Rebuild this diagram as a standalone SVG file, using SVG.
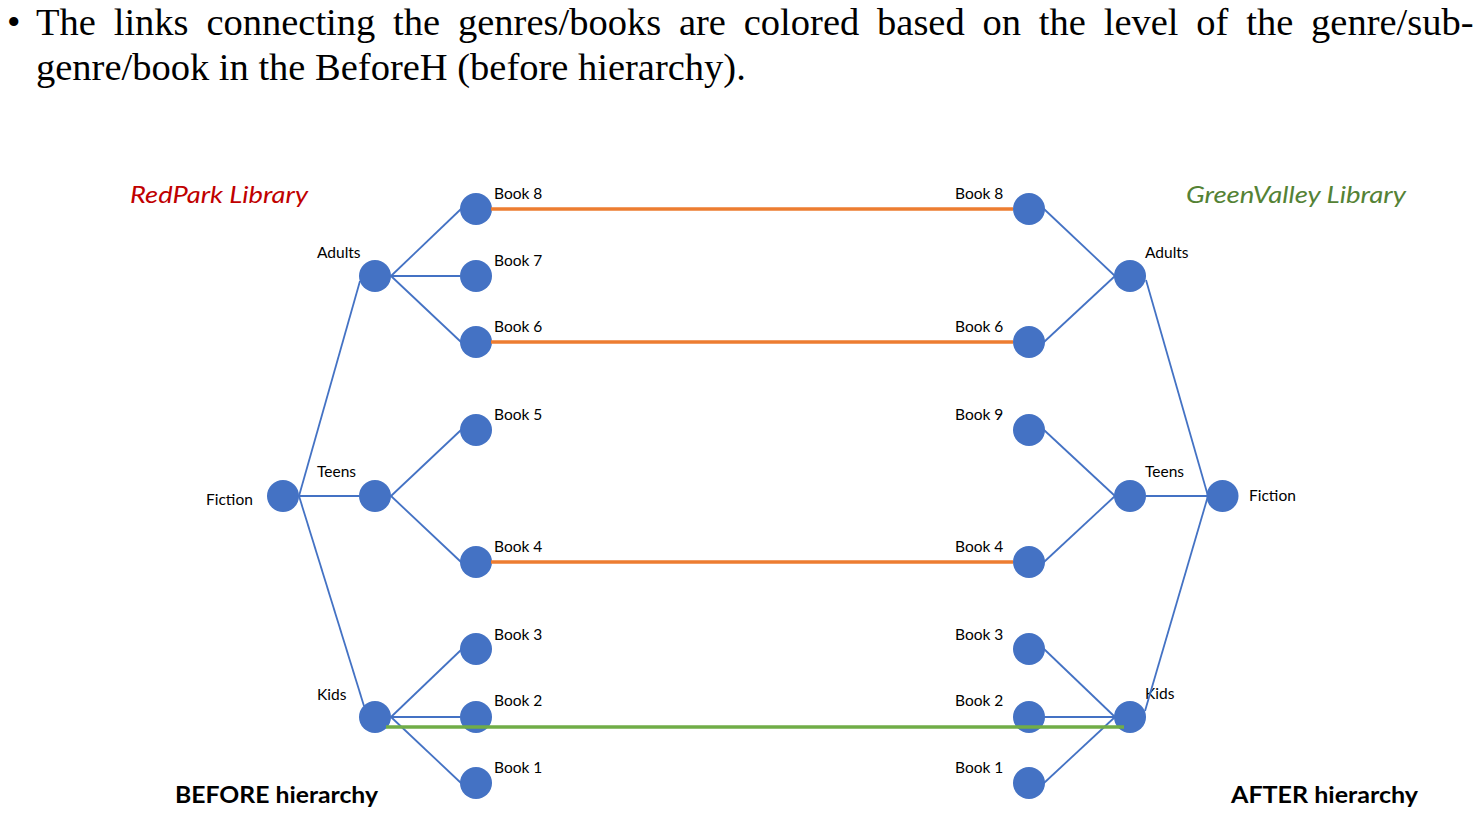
<svg xmlns="http://www.w3.org/2000/svg" width="1482" height="832" viewBox="0 0 1482 832">
<style>
.hdr{font-family:"Liberation Serif","Times New Roman",serif;font-size:38.5px;fill:#000}
.lbl{font-family:Lato,"Liberation Sans",sans-serif;font-size:15.5px;fill:#000}
.ttl{font-family:Lato,"Liberation Sans",sans-serif;font-size:23px;font-style:italic}
.big{font-family:Lato,"Liberation Sans",sans-serif;font-size:23px;font-weight:bold;fill:#000}
.n{fill:#4472C4}
.e{stroke:#4472C4;stroke-width:1.8;fill:none}
.o{stroke:#ED7D31;stroke-width:3.5;fill:none}
.g{stroke:#70AD47;stroke-width:3.5;fill:none}
</style>
<rect width="1482" height="832" fill="#fff"/>
<g id="header">
<text class="hdr" x="7" y="35">•</text>
<text class="hdr" x="36" y="35" word-spacing="8.2">The links connecting the genres/books are colored based on the level of the genre/sub-</text>
<text class="hdr" x="36" y="80">genre/book in the BeforeH (before hierarchy).</text>
</g>
<g id="titles">
<text class="ttl" x="130" y="203" fill="#C00000" textLength="178" lengthAdjust="spacingAndGlyphs">RedPark Library</text>
<text class="ttl" x="1186" y="203" fill="#548235" textLength="220" lengthAdjust="spacingAndGlyphs">GreenValley Library</text>
<text class="big" x="175" y="803" textLength="203" lengthAdjust="spacingAndGlyphs">BEFORE hierarchy</text>
<text class="big" x="1231" y="803" textLength="187" lengthAdjust="spacingAndGlyphs">AFTER hierarchy</text>
</g>
<g id="L-fiction"><circle class="n" cx="283" cy="496" r="16"/><text class="lbl" x="206" y="505">Fiction</text></g>
<g id="L-adults"><circle class="n" cx="375" cy="276" r="16"/><text class="lbl" x="317" y="258">Adults</text></g>
<g id="L-teens"><circle class="n" cx="375" cy="496" r="16"/><text class="lbl" x="317" y="477">Teens</text></g>
<g id="L-kids"><circle class="n" cx="375" cy="717" r="16"/><text class="lbl" x="317" y="700">Kids</text></g>
<g id="L-book8"><circle class="n" cx="476" cy="209" r="16"/><text class="lbl" x="494" y="199">Book 8</text></g>
<g id="L-book7"><circle class="n" cx="476" cy="276" r="16"/><text class="lbl" x="494" y="266">Book 7</text></g>
<g id="L-book6"><circle class="n" cx="476" cy="342" r="16"/><text class="lbl" x="494" y="332">Book 6</text></g>
<g id="L-book5"><circle class="n" cx="476" cy="430" r="16"/><text class="lbl" x="494" y="420">Book 5</text></g>
<g id="L-book4"><circle class="n" cx="476" cy="562" r="16"/><text class="lbl" x="494" y="552">Book 4</text></g>
<g id="L-book3"><circle class="n" cx="476" cy="649" r="16"/><text class="lbl" x="494" y="640">Book 3</text></g>
<g id="L-book2"><circle class="n" cx="476" cy="717" r="16"/><text class="lbl" x="494" y="706">Book 2</text></g>
<g id="L-book1"><circle class="n" cx="476" cy="783" r="16"/><text class="lbl" x="494" y="773">Book 1</text></g>
<g id="R-book8"><circle class="n" cx="1029" cy="209" r="16"/><text class="lbl" x="955" y="199">Book 8</text></g>
<g id="R-book6"><circle class="n" cx="1029" cy="342" r="16"/><text class="lbl" x="955" y="332">Book 6</text></g>
<g id="R-book9"><circle class="n" cx="1029" cy="430" r="16"/><text class="lbl" x="955" y="420">Book 9</text></g>
<g id="R-book4"><circle class="n" cx="1029" cy="562" r="16"/><text class="lbl" x="955" y="552">Book 4</text></g>
<g id="R-book3"><circle class="n" cx="1029" cy="649" r="16"/><text class="lbl" x="955" y="640">Book 3</text></g>
<g id="R-book2"><circle class="n" cx="1029" cy="717" r="16"/><text class="lbl" x="955" y="706">Book 2</text></g>
<g id="R-book1"><circle class="n" cx="1029" cy="783" r="16"/><text class="lbl" x="955" y="773">Book 1</text></g>
<g id="R-adults"><circle class="n" cx="1130" cy="276" r="16"/><text class="lbl" x="1145" y="258">Adults</text></g>
<g id="R-teens"><circle class="n" cx="1130" cy="496" r="16"/><text class="lbl" x="1145" y="477">Teens</text></g>
<g id="R-kids"><circle class="n" cx="1130" cy="717" r="16"/><text class="lbl" x="1145" y="699">Kids</text></g>
<g id="R-fiction"><circle class="n" cx="1222.5" cy="496" r="16"/><text class="lbl" x="1249" y="501">Fiction</text></g>
<g id="connectors">
<line class="e" x1="299" y1="496" x2="360" y2="281"/>
<line class="e" x1="299" y1="496" x2="359" y2="496"/>
<line class="e" x1="299" y1="496" x2="364" y2="706"/>
<line class="e" x1="391" y1="276" x2="461" y2="209"/>
<line class="e" x1="391" y1="276" x2="460" y2="276"/>
<line class="e" x1="391" y1="276" x2="461" y2="342"/>
<line class="e" x1="391" y1="496" x2="461" y2="430"/>
<line class="e" x1="391" y1="496" x2="461" y2="562"/>
<line class="e" x1="391" y1="717" x2="462" y2="649"/>
<line class="e" x1="391" y1="717" x2="460" y2="717"/>
<line class="e" x1="391" y1="717" x2="461" y2="783"/>
<line class="e" x1="1044" y1="209" x2="1115" y2="276"/>
<line class="e" x1="1044" y1="342" x2="1115" y2="276"/>
<line class="e" x1="1044" y1="430" x2="1115" y2="496"/>
<line class="e" x1="1044" y1="562" x2="1115" y2="496"/>
<line class="e" x1="1044" y1="649" x2="1115" y2="717"/>
<line class="e" x1="1044" y1="717" x2="1115" y2="717"/>
<line class="e" x1="1044" y1="783" x2="1115" y2="717"/>
<line class="e" x1="1146" y1="280" x2="1208" y2="496"/>
<line class="e" x1="1146" y1="496" x2="1207" y2="496"/>
<line class="e" x1="1208" y1="496" x2="1145" y2="711"/>
<line class="o" x1="491" y1="209" x2="1013" y2="209"/>
<line class="o" x1="491" y1="342" x2="1013" y2="342"/>
<line class="o" x1="491" y1="562" x2="1013" y2="562"/>
<line class="g" x1="386" y1="727" x2="1124" y2="727"/>
</g>
</svg>
